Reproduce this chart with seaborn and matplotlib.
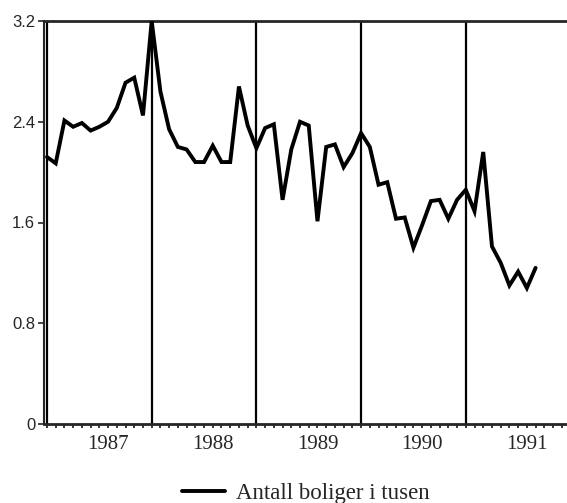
import numpy as np
import pandas as pd
import matplotlib
matplotlib.use("Agg")
import matplotlib.pyplot as plt
import seaborn as sns

# monthly values, first point = month 0
boliger = [2.12, 2.07, 2.41, 2.36, 2.39, 2.33, 2.36, 2.40, 2.51, 2.71,
           2.75, 2.45, 3.20, 2.64, 2.34, 2.20, 2.18, 2.08, 2.08, 2.21,
           2.08, 2.08, 2.68, 2.37, 2.19, 2.35, 2.38, 1.78, 2.18, 2.40,
           2.37, 1.61, 2.20, 2.22, 2.04, 2.15, 2.31, 2.20, 1.90, 1.92,
           1.63, 1.64, 1.40, 1.58, 1.77, 1.78, 1.63, 1.78, 1.86, 1.69,
           2.16, 1.41, 1.28, 1.10, 1.21, 1.08, 1.24]
months = list(range(len(boliger)))

year_labels = ["1987", "1988", "1989", "1990", "1991"]
year_pos = [7, 19, 31, 43, 55]
year_lines = [0, 12, 24, 36, 48]
y_ticks = [0, 0.8, 1.6, 2.4, 3.2]
y_labels = ["0", "0.8", "1.6", "2.4", "3.2"]

df = pd.DataFrame({"maaned": months, "verdi": boliger})

sns.set_style("ticks")
plt.rcParams['font.family'] = ['Liberation Serif', 'DejaVu Serif']

fig = plt.figure(figsize=(5.67, 5.03), dpi=100)
ax = fig.add_axes([43.5/567, 79/503, 1 - 43.5/567, (424-21)/503])

for m in year_lines:
    ax.axvline(m, color="black", lw=1.6, zorder=1)

sns.lineplot(data=df, x="maaned", y="verdi", color="black", lw=2.8,
             ax=ax, label="Antall boliger i tusen", legend=False, zorder=3)
ax.lines[-1].set_solid_joinstyle("miter")

ax.set_xlim(-0.4, 59.6)
ax.set_ylim(0, 3.2)
ax.set_yticks(y_ticks)
ax.set_yticklabels(y_labels, fontsize=12, family=["Liberation Sans", "DejaVu Sans"])
ax.set_xticks(year_pos)
ax.set_xticklabels(year_labels, fontsize=15)
ax.set_xticks(np.arange(0, 60), minor=True)
ax.tick_params(axis="x", which="both", direction="out", length=3, width=1.3, pad=5)
ax.tick_params(axis="y", direction="out", length=4, width=1.2, pad=2)
ax.set_xlabel("")
ax.set_ylabel("")

ax.spines["right"].set_visible(False)
ax.spines["top"].set_linewidth(2)
ax.spines["bottom"].set_linewidth(2)
ax.spines["left"].set_linewidth(1.5)

handles, labels = ax.get_legend_handles_labels()
fig.legend(handles, labels, loc="center", bbox_to_anchor=(306/567, 1 - 493/503),
           frameon=False, fontsize=16.5, handlelength=1.85, handletextpad=0.5)

fig.savefig("out.png", dpi=100)
